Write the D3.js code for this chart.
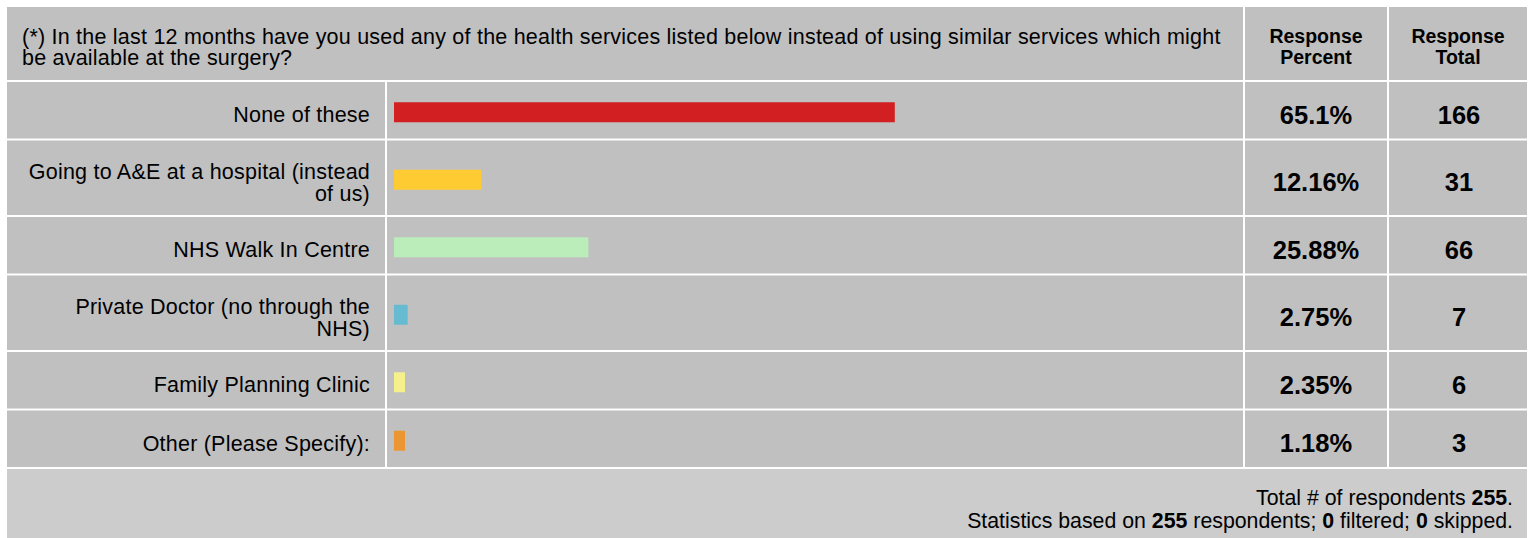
<!DOCTYPE html>
<html>
<head>
<meta charset="utf-8">
<script src="https://cdn.jsdelivr.net/npm/d3@7/dist/d3.min.js"></script>
<style>
  html, body { margin: 0; padding: 0; background: #ffffff; }
  svg { display: block; }
  text { font-family: "Liberation Sans", Arial, Helvetica, sans-serif; fill: #000; }
</style>
</head>
<body>
<div id="chart"></div>
<script>
// ---- Data ----
const questionLines = [
  "(*) In the last 12 months have you used any of the health services listed below instead of using similar services which might",
  "be available at the surgery?"
];
const headerPercent = ["Response", "Percent"];
const headerTotal = ["Response", "Total"];
const categories = [
  "None of these",
  "Going to A&E at a hospital (instead\nof us)",
  "NHS Walk In Centre",
  "Private Doctor (no through the\nNHS)",
  "Family Planning Clinic",
  "Other (Please Specify):"
];
const percents = [65.1, 12.16, 25.88, 2.75, 2.35, 1.18];
const percentLabels = ["65.1%", "12.16%", "25.88%", "2.75%", "2.35%", "1.18%"];
const totals = [166, 31, 66, 7, 6, 3];
const barColors = ["#d21f21", "#ffcb33", "#bbedbb", "#67bbd0", "#f6f08c", "#ec9633"];
const totalRespondents = 255;
const filtered = 0;
const skipped = 0;

// ---- Layout ----
const W = 1533, H = 538;
const gap = 2;
const tableL = 7, tableR = 1527;
const labelR = 385;
const barL = labelR + gap, barR = 1243;
const pctL = barR + gap, pctR = 1387;
const totL = pctR + gap, totR = tableR;
const headerTop = 7, headerBottom = 80;
const cellFill = "#c0c0c0";
const footerFill = "#cccccc";
const fontMain = 21.3;
const fontLabel = 21.5;
const labelSpacing = "0.22px";

const svg = d3.select("#chart").append("svg")
  .attr("width", W).attr("height", H);

svg.append("rect").attr("width", W).attr("height", H).attr("fill", "#fff");

// Header row
const hdr = svg.append("g");
hdr.append("rect").attr("x", tableL).attr("y", headerTop)
  .attr("width", barR - tableL).attr("height", headerBottom - headerTop).attr("fill", cellFill);
hdr.append("rect").attr("x", pctL).attr("y", headerTop)
  .attr("width", pctR - pctL).attr("height", headerBottom - headerTop).attr("fill", cellFill);
hdr.append("rect").attr("x", totL).attr("y", headerTop)
  .attr("width", totR - totL).attr("height", headerBottom - headerTop).attr("fill", cellFill);

const qText = hdr.append("text").attr("x", 22).attr("y", 44)
  .style("font-size", fontLabel + "px").style("letter-spacing", labelSpacing);
questionLines.forEach((l, i) => {
  qText.append("tspan").attr("x", 22).attr("dy", i === 0 ? 0 : 21).text(l);
});

function headerCol(lines, cx) {
  const t = hdr.append("text").attr("x", cx).attr("y", 43)
    .attr("text-anchor", "middle")
    .style("font-size", "19.5px").style("font-weight", "bold");
  lines.forEach((l, i) => {
    t.append("tspan").attr("x", cx).attr("dy", i === 0 ? 0 : 21).text(l);
  });
}
headerCol(headerPercent, (pctL + pctR) / 2);
headerCol(headerTotal, (totL + totR) / 2);

// Rows
const rows = categories.map((c, i) => ({
  lines: c.split("\n"),
  pct: percents[i],
  pctLabel: percentLabels[i],
  total: totals[i],
  color: barColors[i]
}));
let yCursor = headerBottom + gap;
rows.forEach(r => {
  r.h = 38.5 + 18 * r.lines.length;
  r.y = yCursor;
  yCursor += r.h + gap;
});
const footerTop = yCursor;

const x = d3.scaleLinear().domain([1, 65]).range([0, 500]);
const barX0 = barL + 7;
const minBar = 11;

const rowG = svg.selectAll("g.row").data(rows).join("g").attr("class", "row")
  .attr("transform", d => `translate(0,${d.y})`);

rowG.append("rect").attr("x", tableL).attr("y", 0).attr("width", labelR - tableL)
  .attr("height", d => d.h).attr("fill", cellFill);
rowG.append("rect").attr("x", barL).attr("y", 0).attr("width", barR - barL)
  .attr("height", d => d.h).attr("fill", cellFill);
rowG.append("rect").attr("x", pctL).attr("y", 0).attr("width", pctR - pctL)
  .attr("height", d => d.h).attr("fill", cellFill);
rowG.append("rect").attr("x", totL).attr("y", 0).attr("width", totR - totL)
  .attr("height", d => d.h).attr("fill", cellFill);

// labels
rowG.each(function(d) {
  const g = d3.select(this);
  const c = d.h / 2;
  const n = d.lines.length;
  const t = g.append("text").attr("text-anchor", "end")
    .attr("x", labelR - 15)
    .attr("y", c + 12 - (n - 1) * 11)
    .style("font-size", fontLabel + "px").style("letter-spacing", labelSpacing);
  d.lines.forEach((l, i) => {
    t.append("tspan").attr("x", labelR - 15).attr("dy", i === 0 ? 0 : 22).text(l);
  });
});

// bars
rowG.append("rect")
  .attr("x", barX0)
  .attr("y", d => d.h / 2 - 8)
  .attr("width", d => Math.max(minBar, x(d.pct)))
  .attr("height", 20)
  .attr("fill", d => d.color);

// percent & total
rowG.append("text").attr("text-anchor", "middle")
  .attr("x", (pctL + pctR) / 2)
  .attr("y", d => d.h / 2 + 13.5)
  .style("font-size", "25.5px").style("font-weight", "bold")
  .text(d => d.pctLabel);
rowG.append("text").attr("text-anchor", "middle")
  .attr("x", (totL + totR) / 2 + 1)
  .attr("y", d => d.h / 2 + 13.5)
  .style("font-size", "25.5px").style("font-weight", "bold")
  .text(d => d.total);

// Footer
const ft = svg.append("g");
ft.append("rect").attr("x", tableL).attr("y", footerTop)
  .attr("width", tableR - tableL).attr("height", H - footerTop).attr("fill", footerFill);

const f1 = ft.append("text").attr("text-anchor", "end").attr("x", 1513).attr("y", footerTop + 36)
  .style("font-size", fontMain + "px");
f1.append("tspan").text("Total # of respondents ");
f1.append("tspan").style("font-weight", "bold").text(totalRespondents);
f1.append("tspan").text(".");

const f2 = ft.append("text").attr("text-anchor", "end").attr("x", 1513).attr("y", footerTop + 59)
  .style("font-size", fontMain + "px");
f2.append("tspan").text("Statistics based on ");
f2.append("tspan").style("font-weight", "bold").text(totalRespondents);
f2.append("tspan").text(" respondents; ");
f2.append("tspan").style("font-weight", "bold").text(filtered);
f2.append("tspan").text(" filtered; ");
f2.append("tspan").style("font-weight", "bold").text(skipped);
f2.append("tspan").text(" skipped.");
</script>
</body>
</html>
